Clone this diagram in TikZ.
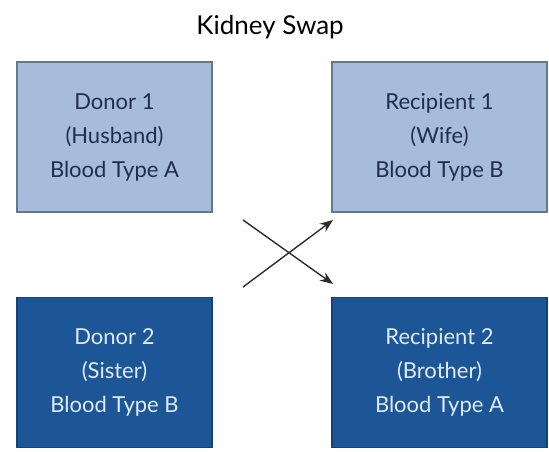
\documentclass[tikz,border=0pt]{standalone}
\usepackage{fontspec}
\setmainfont{Lato}
\usetikzlibrary{arrows.meta}
\definecolor{lightbox}{RGB}{166,188,218}
\definecolor{lightedge}{RGB}{100,118,145}
\definecolor{lighttext}{RGB}{30,45,80}
\definecolor{darkbox}{RGB}{28,86,150}
\definecolor{darkedge}{RGB}{22,66,118}
\definecolor{darktext}{RGB}{225,235,248}
\definecolor{arrowgray}{RGB}{45,45,45}

\begin{document}
\begin{tikzpicture}[x=1pt, y=-1pt,
    pairbox/.style={draw, line width=1.5pt, minimum width=195pt, minimum height=150pt,
        align=center, font=\fontsize{22}{34}\selectfont},
    topbox/.style={pairbox, fill=lightbox, draw=lightedge, text=lighttext},
    lowbox/.style={pairbox, fill=darkbox, draw=darkedge, text=darktext},
    swap/.style={-{Stealth[length=13pt, width=10pt]}, line width=1.4pt, color=arrowgray}]
    \useasboundingbox (0, 0) rectangle (549, 452);

    % Title
    \node[font=\fontsize{26}{30}\selectfont] (title) at (270, 27) {Kidney Swap};

    % Donors and recipients
    \node[topbox] (donor1) at (114.5, 137) {Donor 1\\(Husband)\\Blood Type A};
    \node[topbox, minimum width=215pt] (recip1) at (439.5, 137) {Recipient 1\\(Wife)\\Blood Type B};
    \node[lowbox] (donor2) at (114.5, 372.5) {Donor 2\\(Sister)\\Blood Type B};
    \node[lowbox, minimum width=215pt] (recip2) at (439.5, 372.5) {Recipient 2\\(Brother)\\Blood Type A};

    % Crossing arrows
    \coordinate (from1) at (243, 220);
    \coordinate (to2) at (333, 284);
    \coordinate (from2) at (243, 287);
    \coordinate (to1) at (333, 220);
    \draw[swap] (from1) -- (to2);
    \draw[swap] (from2) -- (to1);
\end{tikzpicture}
\end{document}
